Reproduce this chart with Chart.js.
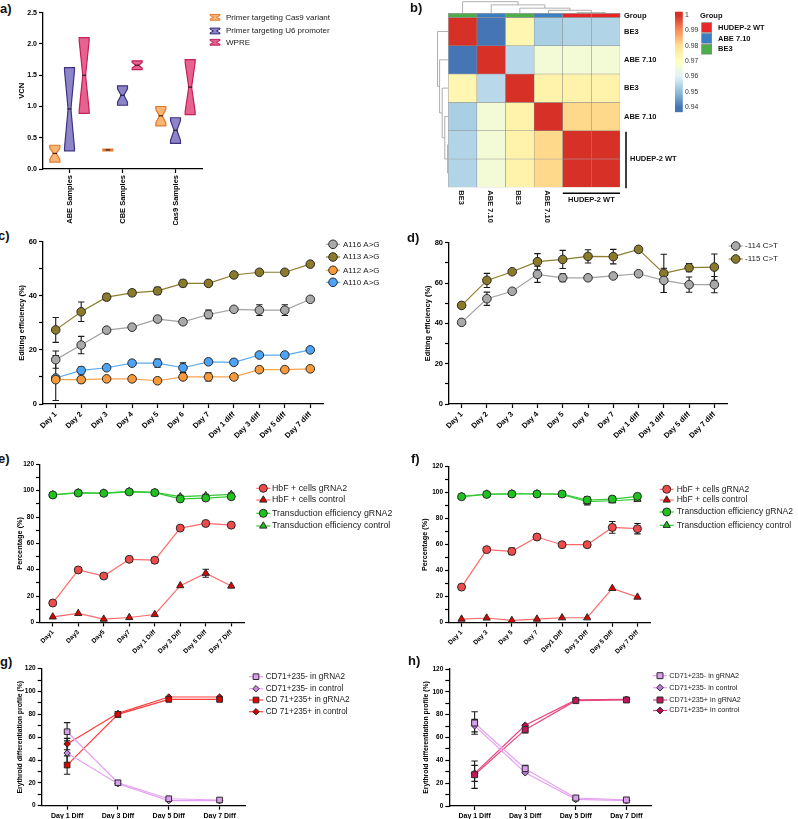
<!DOCTYPE html>
<html>
<head>
<meta charset="utf-8">
<title>Base editing figure</title>
<script src="https://cdn.jsdelivr.net/npm/chart.js@4.4.1/dist/chart.umd.min.js"></script>
<style>
  html, body { margin: 0; padding: 0; background: #fff; }
  #fig { position: relative; width: 798px; height: 819px; overflow: hidden; }
  #fig canvas { position: absolute; }
  .tag { position: absolute; font: bold 13px 'Liberation Sans', Arial, sans-serif; line-height: 13px; color: #111; }
</style>
</head>
<body>
<div id="fig">
  <canvas id="chartA"></canvas>
  <canvas id="chartB"></canvas>
  <canvas id="chartC"></canvas>
  <canvas id="chartD"></canvas>
  <canvas id="chartE"></canvas>
  <canvas id="chartF"></canvas>
  <canvas id="chartG"></canvas>
  <canvas id="chartH"></canvas>
  <div class="tag" style="left:0px;top:2px">a)</div>
  <div class="tag" style="left:410px;top:1px">b)</div>
  <div class="tag" style="left:-2px;top:229px">c)</div>
  <div class="tag" style="left:407px;top:231px">d)</div>
  <div class="tag" style="left:-2px;top:452px">e)</div>
  <div class="tag" style="left:411px;top:452px">f)</div>
  <div class="tag" style="left:0px;top:655px">g)</div>
  <div class="tag" style="left:408px;top:654px">h)</div>
</div>
<script>
'use strict';

// ---------------- a) VCN ----------------
const aCategories = ['ABE Samples', 'CBE Samples', 'Cas9 Samples'];
const aCas9Range = [[0.11, 0.38], [0.29, 0.32], [0.69, 1.0]];
const aCas9Median = [0.25, 0.305, 0.85];
const aU6Range = [[0.29, 1.62], [1.02, 1.33], [0.41, 0.82]];
const aU6Median = [0.96, 1.18, 0.62];
const aWpreRange = [[0.89, 2.1], [1.59, 1.73], [0.87, 1.75]];
const aWpreMedian = [1.5, 1.66, 1.31];

// ---------------- b) correlation heatmap ----------------
const hmColNames = ['BE3', 'ABE 7.10', 'BE3', 'ABE 7.10', 'HUDEP-2 WT', 'HUDEP-2 WT'];
const hmRowLabels = ['BE3', 'ABE 7.10', 'BE3', 'ABE 7.10', '', ''];
const hmGroups = ['BE3', 'ABE 7.10', 'BE3', 'ABE 7.10', 'HUDEP-2 WT', 'HUDEP-2 WT'];
const hmValues = [
  [1.000, 0.940, 0.973, 0.953, 0.954, 0.954],
  [0.940, 1.000, 0.955, 0.966, 0.966, 0.966],
  [0.973, 0.955, 1.000, 0.974, 0.974, 0.974],
  [0.953, 0.966, 0.974, 1.000, 0.981, 0.981],
  [0.954, 0.966, 0.974, 0.981, 1.000, 1.000],
  [0.954, 0.966, 0.974, 0.981, 1.000, 1.000]
];
// merges: [child a, child b, height]; leaves 0..5, new nodes 6..
const hmColTree = [[4, 5, 0.03], [3, 6, 0.24], [2, 7, 0.43], [1, 8, 0.72], [0, 9, 1]];
const hmRowTree = [[4, 5, 0.03], [3, 6, 0.3], [2, 7, 0.55], [1, 8, 0.8], [0, 9, 1]];
const colorBarTicks = [1, 0.99, 0.98, 0.97, 0.96, 0.95, 0.94];
const groupNames = ['HUDEP-2 WT', 'ABE 7.10', 'BE3'];
const groupColors = ['#e8262a', '#3a7fc1', '#4bae4b'];

// ---------------- c) ABE editing ----------------
const cLabels = ['Day 1', 'Day 2', 'Day 3', 'Day 4', 'Day 5', 'Day 6', 'Day 7', 'Day 1 diff', 'Day 3 diff', 'Day 5 diff', 'Day 7 diff'];
const cA116 = [16.4, 21.8, 27.3, 28.4, 31.4, 30.4, 33.1, 35.0, 34.7, 34.7, 38.7];
const cA116Err = [3.2, 3.2, 0.8, 0.8, 1.0, 1.0, 1.6, 0, 2.0, 2.0, 0];
const cA113 = [27.4, 34.1, 39.5, 41.1, 41.8, 44.6, 44.6, 47.7, 48.7, 48.7, 51.7];
const cA113Err = [4.6, 3.6, 1.2, 1.1, 1.3, 1.2, 0.8, 0, 0, 0, 0];
const cA112 = [9.0, 9.0, 9.3, 9.3, 8.6, 10.0, 10.0, 10.0, 12.7, 12.7, 13.0];
const cA112Err = [1.0, 1.2, 0, 0, 0, 0, 1.5, 0, 0, 0, 0];
const cA110 = [9.6, 12.4, 13.4, 15.1, 15.1, 13.4, 15.6, 15.4, 18.1, 18.1, 20.0];
const cA110Err = [8.3, 1.3, 0.6, 0, 1.5, 1.8, 1.0, 1.0, 0, 0, 0];

// ---------------- d) CBE editing ----------------
const dLabels = cLabels;
const d114 = [40.5, 52.2, 55.9, 64.3, 62.6, 62.6, 63.5, 64.6, 61.3, 59.2, 59.2];
const d114Err = [1, 3.3, 0, 4, 2, 1, 1, 0, 6, 3.8, 4];
const d115 = [48.9, 61.3, 65.6, 70.6, 71.7, 73.2, 73.1, 76.7, 64.8, 67.6, 67.9];
const d115Err = [1.5, 3.5, 1, 4, 4.5, 3.3, 3.6, 0, 9.5, 2, 6.5];

// ---------------- e) HbF / transduction (ABE) ----------------
const eLabels = ['Day1', 'Day3', 'Day5', 'Day7', 'Day 1 Diff', 'Day 3 Diff', 'Day 5 Diff', 'Day 7 Diff'];
const eHbfG = [14.7, 39.8, 35.2, 47.9, 47.2, 71.6, 75.1, 73.8];
const eHbfGErr = [0, 1.5, 0, 0, 2, 0, 0, 0];
const eHbfC = [4.2, 6.8, 2.5, 3.7, 6.0, 27.9, 37.3, 27.6];
const eHbfCErr = [0, 0, 0, 0, 0, 0, 3, 0];
const eTrG = [96.7, 98.2, 98.0, 99.0, 98.5, 93.7, 94.4, 95.4];
const eTrGErr = [0, 0, 0, 0, 0, 1.5, 1.5, 1];
const eTrC = [97.0, 98.5, 98.2, 99.5, 98.7, 95.4, 96.2, 97.2];
const eTrCErr = [0, 0, 0, 0, 0, 1, 1, 1];

// ---------------- f) HbF / transduction (CBE) ----------------
const fLabels = ['Day 1', 'Day 3', 'Day 5', 'Day 7', 'Day1 Diff', 'Day 3 Diff', 'Day 5 Diff', 'Day 7 Diff'];
const fHbfG = [27.4, 56.2, 54.9, 65.9, 60.0, 60.0, 73.3, 72.3];
const fHbfGErr = [0, 0, 2.5, 1.5, 0, 0, 4.5, 4];
const fHbfC = [2.8, 3.6, 1.8, 2.8, 3.8, 3.8, 26.4, 19.7];
const fHbfCErr = [0, 0, 0, 0, 0, 0, 0, 0];
const fTrG = [96.9, 98.7, 99.0, 99.0, 99.0, 94.4, 95.1, 97.2];
const fTrGErr = [0, 0, 0, 0, 0, 2.5, 0, 0];
const fTrC = [97.2, 99.0, 99.2, 99.2, 98.7, 93.1, 93.8, 94.9];
const fTrCErr = [0, 0, 0, 0, 0, 2.5, 1, 1];

// ---------------- g) / h) erythroid differentiation ----------------
const ghLabels = ['Day 1 Diff', 'Day 3 Diff', 'Day 5 Diff', 'Day 7 Diff'];
const gNegG = [64.8, 20.1, 6.1, 5.0];
const gNegGErr = [8, 2, 0, 0];
const gNegC = [46.1, 19.3, 4.4, 4.4];
const gNegCErr = [8.5, 0, 0, 0];
const gPosG = [35.6, 80.0, 93.1, 93.1];
const gPosGErr = [8, 2.5, 0, 0];
const gPosC = [54.0, 80.9, 95.2, 95.2];
const gPosCErr = [5, 0, 0, 0];

const hNegG = [72.7, 32.7, 7.0, 5.3];
const hNegGErr = [9.9, 3, 0, 0];
const hNegC = [70.4, 29.2, 5.8, 4.7];
const hNegCErr = [5.5, 0, 0, 0];
const hPosG = [27.4, 66.9, 92.3, 92.9];
const hPosGErr = [12, 3, 0, 2];
const hPosC = [28.6, 70.7, 92.9, 93.4];
const hPosCErr = [7, 0, 0, 0];

// ======================================================================
const FONT = "'Liberation Sans', Arial, sans-serif";
Chart.defaults.font.family = FONT;
const F = (size, weight) => ({ family: FONT, size, weight: weight || 'normal' });

// canvas placement in page coordinates
function place(id, box) {
  const c = document.getElementById(id);
  c.width = box.w;
  c.height = box.h;
  c.style.left = box.x + 'px';
  c.style.top = box.y + 'px';
  return c;
}
// padding so that chart area lands on the wanted page rectangle
function pads(box, area, yW, xH) {
  return {
    left: area.l - yW - box.x,
    top: area.t - box.y,
    right: box.x + box.w - area.r,
    bottom: box.y + box.h - area.b - xH
  };
}

const xAxis = (xH, font, rot) => ({
  offset: true,
  afterFit: s => { s.height = xH; },
  border: { color: '#000', width: 1.3 },
  grid: { drawOnChartArea: false, offset: false, color: '#000', tickColor: '#000', tickLength: 4, tickWidth: 1.2 },
  ticks: { color: '#000', font, padding: 2, minRotation: rot, maxRotation: rot, autoSkip: false }
});

const yAxis = (yW, max, step, every, title, tickFont, titleFont, digits) => ({
  min: 0,
  max,
  afterFit: s => { s.width = yW; },
  border: { color: '#000', width: 1.3 },
  grid: { drawOnChartArea: false, color: '#000', tickColor: '#000', tickLength: 4, tickWidth: 1.2 },
  ticks: {
    stepSize: step,
    autoSkip: false,
    color: '#000',
    font: tickFont,
    padding: 2,
    callback: v => (Math.abs(v / every - Math.round(v / every)) < 1e-6 ? v.toFixed(digits) : '')
  },
  title: { display: true, text: title, color: '#000', font: titleFont, padding: { top: 0, bottom: 0 } }
});

// error bars from dataset.errors through the y scale
const errorBars = {
  id: 'errorBars',
  beforeDatasetsDraw(chart) {
    const ctx = chart.ctx;
    const ys = chart.scales.y;
    ctx.save();
    ctx.strokeStyle = '#1a1a1a';
    ctx.lineWidth = 1.1;
    chart.data.datasets.forEach((ds, i) => {
      if (!ds.errors) return;
      const meta = chart.getDatasetMeta(i);
      meta.data.forEach((pt, j) => {
        const e = ds.errors[j];
        if (!e) return;
        const v = ds.data[j];
        const t = ys.getPixelForValue(v + e);
        const b = ys.getPixelForValue(Math.max(0, v - e));
        const cap = 3.2;
        ctx.beginPath();
        ctx.moveTo(pt.x, t); ctx.lineTo(pt.x, b);
        ctx.moveTo(pt.x - cap, t); ctx.lineTo(pt.x + cap, t);
        ctx.moveTo(pt.x - cap, b); ctx.lineTo(pt.x + cap, b);
        ctx.stroke();
      });
    });
    ctx.restore();
  }
};

function bowtiePath(ctx, cx, top, bot, mid, w) {
  const h = w / 2;
  const waist = h * 0.28;
  const straight = Math.min(3, (bot - top) * 0.18);
  ctx.beginPath();
  ctx.moveTo(cx - h, top);
  ctx.lineTo(cx + h, top);
  ctx.lineTo(cx + h, top + straight);
  ctx.lineTo(cx + waist, mid);
  ctx.lineTo(cx + h, bot - straight);
  ctx.lineTo(cx + h, bot);
  ctx.lineTo(cx - h, bot);
  ctx.lineTo(cx - h, bot - straight);
  ctx.lineTo(cx - waist, mid);
  ctx.lineTo(cx - h, top + straight);
  ctx.closePath();
}

// floating bars redrawn as notched "bow ties" with a median line
const bowtie = {
  id: 'bowtie',
  afterDatasetsDraw(chart) {
    const ctx = chart.ctx;
    const ys = chart.scales.y;
    ctx.save();
    chart.data.datasets.forEach((ds, i) => {
      const meta = chart.getDatasetMeta(i);
      meta.data.forEach((bar, j) => {
        const p = bar.getProps(['x', 'y', 'base', 'width'], true);
        const top = Math.min(p.y, p.base);
        const bot = Math.max(p.y, p.base);
        const mid = ys.getPixelForValue(ds.medians[j]);
        bowtiePath(ctx, p.x, top, bot, mid, p.width);
        ctx.fillStyle = ds.fillColor;
        ctx.strokeStyle = ds.edgeColor;
        ctx.lineWidth = 1.2;
        ctx.fill();
        ctx.stroke();
        const hw = p.width / 2 * 0.28 + 0.8;
        ctx.beginPath();
        ctx.strokeStyle = '#111';
        ctx.lineWidth = 1;
        ctx.moveTo(p.x - hw, mid); ctx.lineTo(p.x + hw, mid);
        ctx.stroke();
      });
    });
    ctx.restore();
  }
};

// legend placed to the right of the plot, GraphPad style
const sideLegend = {
  id: 'sideLegend',
  afterDraw(chart, args, o) {
    if (!o || !o.rows) return;
    const ctx = chart.ctx;
    ctx.save();
    ctx.font = (o.font || 8) + 'px ' + FONT;
    ctx.textBaseline = 'middle';
    ctx.textAlign = 'left';
    chart.data.datasets.forEach((ds, i) => {
      const y = o.rows[i];
      if (o.icon === 'bowtie') {
        bowtiePath(ctx, o.x, y - 2.9, y + 2.9, y, 10);
        ctx.fillStyle = ds.fillColor;
        ctx.strokeStyle = ds.edgeColor;
        ctx.lineWidth = 1;
        ctx.fill();
        ctx.stroke();
      } else {
        ctx.strokeStyle = ds.borderColor;
        ctx.lineWidth = 1.2;
        ctx.beginPath();
        ctx.moveTo(o.x - 7, y); ctx.lineTo(o.x + 7, y);
        ctx.stroke();
        ctx.fillStyle = ds.pointBackgroundColor;
        ctx.strokeStyle = ds.pointBorderColor;
        ctx.lineWidth = 1;
        Chart.helpers.drawPoint(ctx, { pointStyle: ds.pointStyle, radius: ds.pointRadius, rotation: 0, borderWidth: 1 }, o.x, y);
      }
      ctx.fillStyle = '#1a1a1a';
      ctx.fillText(ds.label, o.textX, y);
    });
    ctx.restore();
  }
};

function lineChart(id, box, area, yW, xH, o) {
  const canvas = place(id, box);
  return new Chart(canvas, {
    type: 'line',
    data: {
      labels: o.labels,
      datasets: o.series.map(s => ({
        label: s.label,
        data: s.data,
        errors: s.err,
        borderColor: s.line,
        backgroundColor: s.fill,
        pointBackgroundColor: s.fill,
        pointBorderColor: '#2a2a2a',
        pointBorderWidth: 1,
        pointStyle: s.style,
        pointRadius: s.r,
        borderWidth: 1.2,
        tension: 0
      }))
    },
    options: {
      responsive: false,
      animation: false,
      devicePixelRatio: 1,
      layout: { padding: pads(box, area, yW, xH) },
      scales: {
        x: xAxis(xH, o.xFont, o.xRot),
        y: yAxis(yW, o.yMax, o.yStep, o.yEvery, o.title, o.yFont, o.titleFont, 0)
      },
      plugins: {
        legend: { display: false },
        tooltip: { enabled: false },
        sideLegend: {
          x: o.legend.x - box.x,
          textX: o.legend.textX - box.x,
          rows: o.legend.rows.map(v => v - box.y),
          font: o.legend.font
        }
      }
    },
    plugins: [errorBars, sideLegend]
  });
}

// ---------------- a) ----------------
(function () {
  const box = { x: 14, y: 0, w: 330, h: 232 };
  const area = { l: 43, t: 12.7, r: 202, b: 169 };
  const yW = 25.8, xH = 56;
  const mk = (label, data, medians, fill, edge) => ({
    label, data, medians, fillColor: fill, edgeColor: edge,
    backgroundColor: 'rgba(0,0,0,0)', borderWidth: 0,
    categoryPercentage: 0.83, barPercentage: 0.68
  });
  new Chart(place('chartA', box), {
    type: 'bar',
    data: {
      labels: aCategories,
      datasets: [
        mk('Primer targeting Cas9 variant', aCas9Range, aCas9Median, '#f8b574', '#e2782c'),
        mk('Primer targeting U6 promoter', aU6Range, aU6Median, '#8c86c8', '#3f3180'),
        mk('WPRE', aWpreRange, aWpreMedian, '#e8628f', '#c21f5b')
      ]
    },
    options: {
      responsive: false,
      animation: false,
      devicePixelRatio: 1,
      layout: { padding: pads(box, area, yW, xH) },
      scales: {
        x: xAxis(xH, F(7.5, 'bold'), 90),
        y: yAxis(yW, 2.5, 0.5, 0.5, 'VCN', F(7, 'bold'), F(7.5, 'bold'), 1)
      },
      plugins: {
        legend: { display: false },
        tooltip: { enabled: false },
        sideLegend: { icon: 'bowtie', x: 215 - box.x, textX: 226 - box.x, rows: [17.3, 31, 42.3].map(v => v - box.y), font: 8 }
      }
    },
    plugins: [bowtie, sideLegend]
  });
})();

// ---------------- b) heatmap ----------------
const hmPalette = ['#4575b4', '#91bfdb', '#e0f3f8', '#ffffbf', '#fee090', '#fc8d59', '#d73027'];
const hmMin = 0.94, hmMax = 1.0;
function hexRgb(h) {
  const n = parseInt(h.slice(1), 16);
  return [(n >> 16) & 255, (n >> 8) & 255, n & 255];
}
function heatColor(v) {
  let t = (v - hmMin) / (hmMax - hmMin);
  t = Math.max(0, Math.min(1, t)) * (hmPalette.length - 1);
  const i = Math.min(Math.floor(t), hmPalette.length - 2);
  const f = t - i;
  const a = hexRgb(hmPalette[i]), b = hexRgb(hmPalette[i + 1]);
  const c = a.map((x, k) => Math.round(x + (b[k] - x) * f));
  return 'rgb(' + c.join(',') + ')';
}

function drawTree(ctx, merges, leafPos, n, map) {
  const pos = [], ht = [];
  for (let i = 0; i < n; i++) { pos[i] = leafPos(i); ht[i] = 0; }
  const seg = (p1, h1, p2, h2) => {
    const a = map(p1, h1), b = map(p2, h2);
    ctx.moveTo(a[0], a[1]); ctx.lineTo(b[0], b[1]);
  };
  ctx.beginPath();
  merges.forEach(([a, b, h], k) => {
    seg(pos[a], ht[a], pos[a], h);
    seg(pos[b], ht[b], pos[b], h);
    seg(pos[a], h, pos[b], h);
    pos[n + k] = (pos[a] + pos[b]) / 2;
    ht[n + k] = h;
  });
  ctx.stroke();
}

const heatDecor = {
  id: 'heatDecor',
  afterDraw(chart) {
    const { ctx, chartArea: ca, scales } = chart;
    const xs = scales.x, ys = scales.y;
    const n = hmColNames.length;
    const colX = i => xs.getPixelForValue(i);
    const rowY = i => ys.getPixelForValue(i + 0.5);
    const cw = (ca.right - ca.left) / n;
    const gColor = g => groupColors[groupNames.indexOf(g)];
    ctx.save();

    // group annotation strip
    ctx.lineWidth = 0.6;
    ctx.strokeStyle = '#8c8c8c';
    hmGroups.forEach((g, i) => {
      ctx.fillStyle = gColor(g);
      ctx.fillRect(colX(i) - cw / 2, ca.top - 4, cw, 4);
      ctx.strokeRect(colX(i) - cw / 2, ca.top - 4, cw, 4);
    });

    // dendrograms
    ctx.strokeStyle = '#9a9a9a';
    ctx.lineWidth = 0.8;
    drawTree(ctx, hmColTree, colX, n, (p, h) => [p, ca.top - 4.3 - h * 11.3]);
    drawTree(ctx, hmRowTree, rowY, n, (p, h) => [ca.left - 0.4 - h * 10.4, p]);

    ctx.fillStyle = '#111';
    ctx.textBaseline = 'middle';
    ctx.textAlign = 'left';
    ctx.font = 'bold 7.5px ' + FONT;
    ctx.fillText('Group', ca.right + 4, ca.top - 1.8);

    // HUDEP-2 WT row bracket
    const wtTop = ys.getPixelForValue(4);
    ctx.strokeStyle = '#000';
    ctx.lineWidth = 1.5;
    ctx.beginPath();
    ctx.moveTo(ca.right + 6, wtTop + 1);
    ctx.lineTo(ca.right + 6, ca.bottom + 1);
    ctx.stroke();
    ctx.fillText(hmGroups[4], ca.right + 10, ys.getPixelForValue(5));

    // column labels (rotated) and WT bracket
    for (let i = 0; i < 4; i++) {
      ctx.save();
      ctx.translate(colX(i) - 1.5, ca.bottom + 3);
      ctx.rotate(Math.PI / 2);
      ctx.textAlign = 'left';
      ctx.fillText(hmColNames[i], 0, 0);
      ctx.restore();
    }
    ctx.beginPath();
    ctx.moveTo(colX(4) - cw / 2, ca.bottom + 6);
    ctx.lineTo(ca.right, ca.bottom + 6);
    ctx.stroke();
    ctx.textAlign = 'center';
    ctx.fillText(hmColNames[4], (colX(4) + colX(5)) / 2, ca.bottom + 13);

    // colour bar
    const cbX = ca.right + 55, cbW = 7.7;
    const cbTop = ca.top - 5.6, cbBot = ca.top + 94.4;
    const cbHi = 1.0022, cbLo = 0.9371;
    const steps = 100;
    for (let k = 0; k < steps; k++) {
      const y0 = cbTop + (cbBot - cbTop) * k / steps;
      const v = cbHi - (cbHi - cbLo) * (k + 0.5) / steps;
      ctx.fillStyle = heatColor(v);
      ctx.fillRect(cbX, y0, cbW, (cbBot - cbTop) / steps + 0.5);
    }
    ctx.fillStyle = '#333';
    ctx.font = '6.8px ' + FONT;
    ctx.textAlign = 'left';
    colorBarTicks.forEach(t => {
      const y = cbTop + (cbHi - t) / (cbHi - cbLo) * (cbBot - cbTop);
      ctx.fillText(String(t), cbX + 10, y);
    });

    // group legend
    ctx.fillStyle = '#111';
    ctx.font = 'bold 7.5px ' + FONT;
    ctx.fillText('Group', ca.right + 80, ca.top - 1.6);
    groupNames.forEach((g, k) => {
      const y = ca.top + 5.4 + k * 10.9;
      ctx.fillStyle = groupColors[k];
      ctx.fillRect(ca.right + 81.7, y, 10, 9.6);
      ctx.strokeStyle = '#777';
      ctx.lineWidth = 0.6;
      ctx.strokeRect(ca.right + 81.7, y, 10, 9.6);
      ctx.fillStyle = '#111';
      ctx.fillText(g, ca.right + 98, y + 4.9);
    });
    ctx.restore();
  }
};

(function () {
  const box = { x: 405, y: 0, w: 393, h: 230 };
  const area = { l: 448.3, t: 17.3, r: 620, b: 187.3 };
  const rW = 60;
  new Chart(place('chartB', box), {
    type: 'bar',
    data: {
      labels: hmColNames,
      datasets: hmValues.map((row, r) => ({
        label: hmColNames[r],
        data: row.map(() => [r, r + 1]),
        backgroundColor: row.map(heatColor),
        borderColor: '#8c8c8c',
        borderWidth: 0.5,
        borderSkipped: false,
        barPercentage: 1,
        categoryPercentage: 1,
        grouped: false,
        yAxisID: 'y'
      }))
    },
    options: {
      responsive: false,
      animation: false,
      devicePixelRatio: 1,
      layout: {
        padding: { left: area.l - box.x, top: area.t - box.y, right: box.x + box.w - area.r - rW, bottom: box.y + box.h - area.b }
      },
      scales: {
        x: { display: false, offset: true },
        y: { display: false, min: 0, max: 6, reverse: true },
        yr: {
          type: 'category',
          position: 'right',
          labels: hmRowLabels,
          offset: true,
          afterFit: s => { s.width = rW; },
          border: { display: false },
          grid: { display: false, drawTicks: false },
          ticks: { color: '#111', font: F(7.5, 'bold'), padding: 4, autoSkip: false }
        }
      },
      plugins: { legend: { display: false }, tooltip: { enabled: false } }
    },
    plugins: [heatDecor]
  });
})();

// ---------------- c) ----------------
lineChart('chartC', { x: 14, y: 232, w: 384, h: 214 }, { l: 43, t: 241.7, r: 323, b: 404 }, 25.2, 40, {
  labels: cLabels,
  yMax: 60, yStep: 10, yEvery: 20,
  title: 'Editing efficiency (%)',
  yFont: F(7.5, 'bold'), titleFont: F(7.5, 'bold'), xFont: F(7.5, 'bold'), xRot: 45,
  series: [
    { label: 'A116 A>G', data: cA116, err: cA116Err, line: '#a3a3a3', fill: '#a9a9a9', style: 'circle', r: 4.3 },
    { label: 'A113 A>G', data: cA113, err: cA113Err, line: '#8d7c2c', fill: '#8a7a2a', style: 'circle', r: 4.3 },
    { label: 'A112 A>G', data: cA112, err: cA112Err, line: '#f7a24c', fill: '#f89a3a', style: 'circle', r: 4.3 },
    { label: 'A110 A>G', data: cA110, err: cA110Err, line: '#5aa9f0', fill: '#4ca4f7', style: 'circle', r: 4.3 }
  ],
  legend: { x: 333, textX: 343, rows: [244.3, 257, 270.3, 282.3], font: 8 }
});

// ---------------- d) ----------------
lineChart('chartD', { x: 420, y: 232, w: 378, h: 214 }, { l: 449, t: 242.7, r: 727, b: 404 }, 25.2, 40, {
  labels: dLabels,
  yMax: 80, yStep: 10, yEvery: 20,
  title: 'Editing efficiency (%)',
  yFont: F(7.5, 'bold'), titleFont: F(7.5, 'bold'), xFont: F(7.5, 'bold'), xRot: 45,
  series: [
    { label: '-114 C>T', data: d114, err: d114Err, line: '#a3a3a3', fill: '#a9a9a9', style: 'circle', r: 4.3 },
    { label: '-115 C>T', data: d115, err: d115Err, line: '#8d7c2c', fill: '#8a7a2a', style: 'circle', r: 4.3 }
  ],
  legend: { x: 735.7, textX: 745, rows: [246, 259], font: 8 }
});

// ---------------- e) ----------------
lineChart('chartE', { x: 14, y: 455, w: 384, h: 205 }, { l: 40, t: 464.3, r: 244, b: 622.4 }, 24.5, 35, {
  labels: eLabels,
  yMax: 120, yStep: 10, yEvery: 20,
  title: 'Percentage (%)',
  yFont: F(6.5, 'bold'), titleFont: F(7.3, 'bold'), xFont: F(6.5, 'bold'), xRot: 45,
  series: [
    { label: 'HbF + cells gRNA2', data: eHbfG, err: eHbfGErr, line: '#ff6a6a', fill: '#f04a4a', style: 'circle', r: 4 },
    { label: 'HbF + cells control', data: eHbfC, err: eHbfCErr, line: '#ff6a6a', fill: '#e00000', style: 'triangle', r: 4.2 },
    { label: 'Transduction efficiency gRNA2', data: eTrG, err: eTrGErr, line: '#33c933', fill: '#1ec31e', style: 'circle', r: 4 },
    { label: 'Transduction efficiency control', data: eTrC, err: eTrCErr, line: '#33c933', fill: '#22bb22', style: 'triangle', r: 4.2 }
  ],
  legend: { x: 263.3, textX: 272, rows: [488.3, 500, 513.3, 526], font: 8.8 }
});

// ---------------- f) ----------------
lineChart('chartF', { x: 418, y: 455, w: 380, h: 205 }, { l: 449, t: 466.7, r: 650, b: 622.7 }, 28.5, 35, {
  labels: fLabels,
  yMax: 120, yStep: 10, yEvery: 20,
  title: 'Percentage (%)',
  yFont: F(6.5, 'bold'), titleFont: F(7.3, 'bold'), xFont: F(6.5, 'bold'), xRot: 45,
  series: [
    { label: 'HbF + cells gRNA2', data: fHbfG, err: fHbfGErr, line: '#ff6a6a', fill: '#f04a4a', style: 'circle', r: 4 },
    { label: 'HbF + cells control', data: fHbfC, err: fHbfCErr, line: '#ff6a6a', fill: '#e00000', style: 'triangle', r: 4.2 },
    { label: 'Transduction efficiency gRNA2', data: fTrG, err: fTrGErr, line: '#33c933', fill: '#1ec31e', style: 'circle', r: 4 },
    { label: 'Transduction efficiency control', data: fTrC, err: fTrCErr, line: '#33c933', fill: '#22bb22', style: 'triangle', r: 4.2 }
  ],
  legend: { x: 666.7, textX: 676.7, rows: [489.3, 500, 512, 525.3], font: 8.5 }
});

// ---------------- g) ----------------
lineChart('chartG', { x: 14, y: 660, w: 384, h: 159 }, { l: 41.7, t: 668.7, r: 245, b: 805.7 }, 25.2, 13, {
  labels: ghLabels,
  yMax: 120, yStep: 10, yEvery: 20,
  title: 'Erythroid differentiation profile (%)',
  yFont: F(6.5, 'bold'), titleFont: F(6.8, 'bold'), xFont: F(7, 'bold'), xRot: 0,
  series: [
    { label: 'CD71+235- in gRNA2', data: gNegG, err: gNegGErr, line: '#e6a2f2', fill: '#dc9ff0', style: 'rect', r: 4 },
    { label: 'CD71+235- in control', data: gNegC, err: gNegCErr, line: '#e6a2f2', fill: '#c88ae0', style: 'rectRot', r: 3.2 },
    { label: 'CD 71+235+ in gRNA2', data: gPosG, err: gPosGErr, line: '#ff3b3b', fill: '#e00000', style: 'rect', r: 4 },
    { label: 'CD 71+235+ in control', data: gPosC, err: gPosCErr, line: '#ff3b3b', fill: '#d40000', style: 'rectRot', r: 3.2 }
  ],
  legend: { x: 256, textX: 265.7, rows: [676.7, 688.7, 700, 711.7], font: 8.2 }
});

// ---------------- h) ----------------
lineChart('chartH', { x: 418, y: 660, w: 380, h: 159 }, { l: 449.3, t: 669, r: 651.7, b: 806 }, 27.5, 13, {
  labels: ghLabels,
  yMax: 120, yStep: 10, yEvery: 20,
  title: 'Erythroid differentiation profile (%)',
  yFont: F(6.5, 'bold'), titleFont: F(6.8, 'bold'), xFont: F(7, 'bold'), xRot: 0,
  series: [
    { label: 'CD71+235- in gRNA2', data: hNegG, err: hNegGErr, line: '#e6a2f2', fill: '#dc9ff0', style: 'rect', r: 4.2 },
    { label: 'CD71+235- in control', data: hNegC, err: hNegCErr, line: '#e6a2f2', fill: '#b97ad6', style: 'rectRot', r: 3.4 },
    { label: 'CD71+235+ in gRNA2', data: hPosG, err: hPosGErr, line: '#e8457f', fill: '#c2185b', style: 'rect', r: 4.2 },
    { label: 'CD71+235+ in control', data: hPosC, err: hPosCErr, line: '#e8457f', fill: '#b5104f', style: 'rectRot', r: 3.4 }
  ],
  legend: { x: 660, textX: 669.3, rows: [675.7, 687.7, 700, 710.5], font: 7.2 }
});
</script>
</body>
</html>
